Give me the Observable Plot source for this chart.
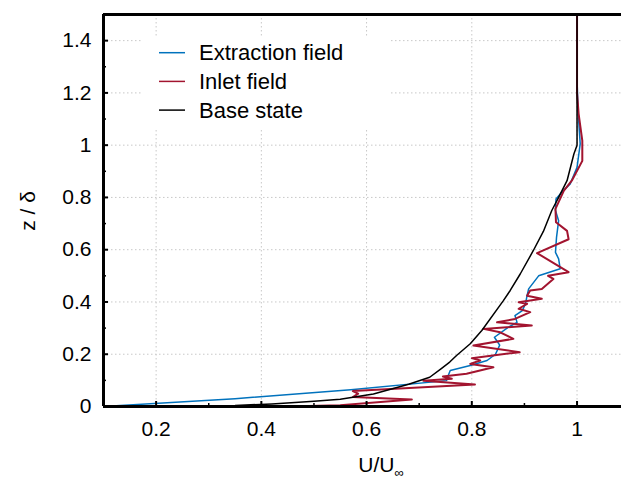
<!DOCTYPE html>
<html>
<head>
<meta charset="utf-8">
<script src="https://cdn.jsdelivr.net/npm/d3@7"></script>
<script src="https://cdn.jsdelivr.net/npm/@observablehq/plot@0.6"></script>
<style>
  html, body { margin: 0; padding: 0; background: #fff; overflow: hidden; }
  svg { font-family: "Liberation Sans", Arial, sans-serif; }
</style>
</head>
<body>
<div id="chart"></div>
<script>
// ---- data (u = U/U∞, z = z/δ) ----
const extractionU = [0.1, 0.35, 0.57, 0.752, 0.755, 0.759, 0.797, 0.829, 0.845, 0.853, 0.843, 0.869, 0.886, 0.882, 0.896, 0.902, 0.905, 0.908, 0.927, 0.968, 0.965, 0.959, 0.961, 0.965, 0.959, 0.96, 0.971, 0.987, 1.0, 1.006, 1.002, 1.0, 1.0];
const extractionZ = [0, 0.03, 0.064, 0.099, 0.118, 0.138, 0.157, 0.176, 0.2, 0.235, 0.265, 0.303, 0.322, 0.348, 0.367, 0.393, 0.424, 0.45, 0.5, 0.527, 0.565, 0.59, 0.647, 0.711, 0.75, 0.794, 0.82, 0.852, 0.915, 1.005, 1.13, 1.25, 1.5];

const inletU = [0.45, 0.55, 0.686, 0.574, 0.584, 0.574, 0.806, 0.708, 0.762, 0.745, 0.79, 0.841, 0.797, 0.816, 0.80, 0.891, 0.803, 0.879, 0.854, 0.822, 0.914, 0.848, 0.882, 0.911, 0.889, 0.905, 0.889, 0.933, 0.905, 0.911, 0.933, 0.955, 0.945, 0.984, 0.924, 0.984, 0.981, 0.96, 0.959, 0.975, 0.99, 1.01, 1.01, 1.003, 1.0, 1.0];
const inletZ = [0, 0.005, 0.027, 0.036, 0.049, 0.059, 0.084, 0.099, 0.106, 0.115, 0.125, 0.15, 0.163, 0.176, 0.185, 0.208, 0.233, 0.259, 0.284, 0.297, 0.31, 0.322, 0.335, 0.361, 0.374, 0.393, 0.399, 0.412, 0.424, 0.444, 0.45, 0.488, 0.5, 0.514, 0.587, 0.64, 0.672, 0.705, 0.756, 0.826, 0.864, 0.94, 1.017, 1.12, 1.2, 1.5];

const baseU = [0.25, 0.35, 0.42, 0.5, 0.55, 0.613, 0.68, 0.72, 0.742, 0.758, 0.771, 0.797, 0.819, 0.86, 0.873, 0.892, 0.917, 0.936, 0.952, 0.965, 0.981, 0.994, 1.0, 1.0];
const baseZ = [0, 0.004, 0.01, 0.02, 0.028, 0.048, 0.085, 0.112, 0.145, 0.17, 0.195, 0.24, 0.291, 0.405, 0.444, 0.507, 0.597, 0.67, 0.75, 0.80, 0.864, 0.966, 1.0, 1.5];

const seriesNames = ["Extraction field", "Inlet field", "Base state"];
const seriesColors = ["#0072BD", "#A2142F", "#000000"];
const seriesWidths = [1.5, 2, 1.5];

const xTicks = [0.2, 0.4, 0.6, 0.8, 1];
const xMinorTicks = [0.3, 0.5, 0.7, 0.9];
const yTicks = [0, 0.2, 0.4, 0.6, 0.8, 1, 1.2, 1.4];
const yMinorTicks = [0.1, 0.3, 0.5, 0.7, 0.9, 1.1, 1.3];

const xDomain = [0.1, 1.0845];
const yDomain = [0, 1.5];

// ---- build tables ----
const toRows = (us, zs) => us.map((u, i) => ({u, z: zs[i]}));
const series = [toRows(extractionU, extractionZ), toRows(inletU, inletZ), toRows(baseU, baseZ)];

const fmt = d => String(+d.toFixed(1));
const xTickLen = 5 / 525, yTickLen = 5 / 261.5;
const FS = 21;

const plot = Plot.plot({
  width: 621,
  height: 491,
  marginLeft: 103,
  marginRight: 0,
  marginTop: 14,
  marginBottom: 85,
  style: {fontSize: FS + "px", fontFamily: "Liberation Sans, Arial, sans-serif", color: "#000", background: "#fff"},
  x: {domain: xDomain},
  y: {domain: yDomain},
  marks: [
    Plot.gridX(xTicks, {stroke: "#c8c8c8", strokeOpacity: 1, strokeDasharray: "1.5,2.5"}),
    Plot.gridY(yTicks.filter(d => d > 0), {stroke: "#c8c8c8", strokeOpacity: 1, strokeDasharray: "1.5,2.5"}),
    ...series.map((rows, i) => Plot.line(rows, {x: "u", y: "z", stroke: seriesColors[i], strokeWidth: seriesWidths[i], clip: true})),
    // inward ticks
    Plot.ruleX(xTicks, {x: d => d, y1: 0, y2: yTickLen, stroke: "#000", strokeWidth: 2}),
    Plot.ruleX(xMinorTicks, {x: d => d, y1: 0, y2: yTickLen * 0.6, stroke: "#000", strokeWidth: 1.5}),
    Plot.ruleY(yTicks, {y: d => d, x1: xDomain[0], x2: xDomain[0] + xTickLen, stroke: "#000", strokeWidth: 2}),
    Plot.ruleY(yMinorTicks, {y: d => d, x1: xDomain[0], x2: xDomain[0] + xTickLen * 0.6, stroke: "#000", strokeWidth: 1.5}),
    // frame
    Plot.ruleX([xDomain[0]], {stroke: "#000", strokeWidth: 3}),
    Plot.ruleY([yDomain[0], yDomain[1]], {stroke: "#000", strokeWidth: 3}),
    Plot.axisX(xTicks, {tickSize: 0, tickPadding: 15, tickFormat: fmt, label: null, fontSize: FS}),
    Plot.axisY(yTicks, {tickSize: 0, tickPadding: 12, tickFormat: fmt, label: null, fontSize: FS})
  ]
});

document.getElementById("chart").appendChild(plot);

// ---- legend and axis titles ----
const svg = d3.select(plot);
const lg = svg.append("g").attr("text-anchor", "start");
lg.append("rect").attr("x", 143).attr("y", 37).attr("width", 248).attr("height", 91).attr("fill", "#fff");
seriesNames.forEach((name, i) => {
  const y = 52.7 + i * 28.7;
  lg.append("line").attr("x1", 159).attr("x2", 185).attr("y1", y).attr("y2", y)
    .attr("stroke", seriesColors[i]).attr("stroke-width", 1.5);
  lg.append("text").attr("x", 199).attr("y", y + 7.5).attr("text-anchor", "start")
    .attr("font-size", FS + 1).attr("fill", "#000").text(name);
});

svg.append("text")
  .attr("transform", "translate(35,211) rotate(-90)")
  .attr("text-anchor", "middle").attr("font-size", FS).attr("fill", "#000")
  .text("z / δ");

const xl = svg.append("text").attr("x", 381).attr("y", 472).attr("text-anchor", "middle")
  .attr("font-size", FS).attr("fill", "#000");
xl.append("tspan").text("U/U");
xl.append("tspan").attr("font-size", 13).attr("dy", 5).text("∞");
</script>
</body>
</html>
